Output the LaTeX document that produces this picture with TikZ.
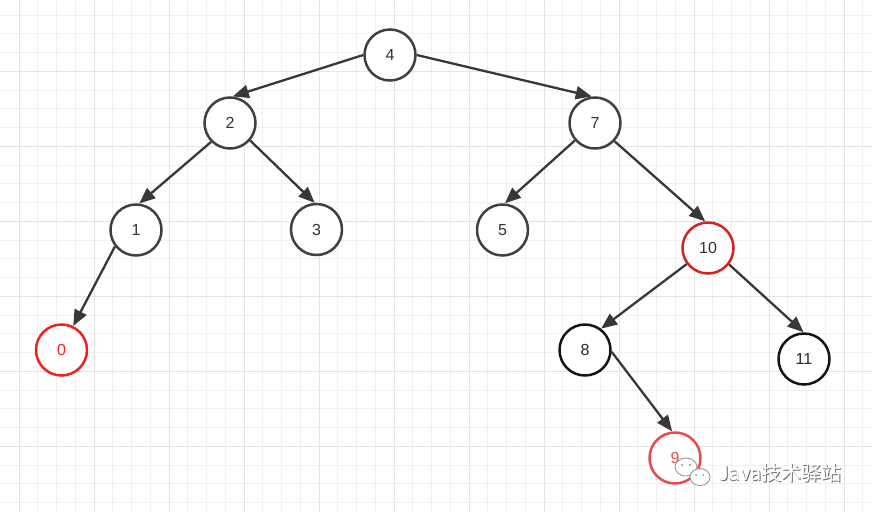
\documentclass[tikz,border=0pt]{standalone}
\usepackage{fontspec}
\setmainfont{Liberation Sans}
\newfontfamily\cjk{Noto Sans CJK SC}
\usetikzlibrary{arrows.meta}
\definecolor{minorgrid}{HTML}{F0F0F0}
\definecolor{majorgrid}{HTML}{E4E4E4}
\definecolor{nodegray}{HTML}{404040}
\definecolor{textgray}{HTML}{333333}
\definecolor{edgegray}{HTML}{383838}
\definecolor{darkred}{HTML}{D02424}
\definecolor{brightred}{HTML}{EE2020}
\definecolor{lightred}{HTML}{EC4A4A}
\definecolor{markgray}{HTML}{6A6A6A}
\tikzset{
  tnode/.style={circle, draw=nodegray, line width=2.5pt, minimum size=51pt, inner sep=0pt,
    fill=white, text=textgray, font=\fontsize{16}{19}\selectfont},
  blknode/.style={tnode, draw=black!92, text=black!85},
  rednodeA/.style={tnode, draw=darkred},
  rednodeB/.style={tnode, draw=brightred, text=brightred},
  rednodeC/.style={tnode, draw=lightred, text=lightred},
  edge/.style={draw=edgegray, line width=2.3pt, -{Triangle[length=16pt,width=13pt]}},
  minorline/.style={draw=minorgrid, line width=1pt},
  majorline/.style={draw=majorgrid, line width=1pt},
}
\begin{document}
\begin{tikzpicture}[x=1pt,y=-1pt]
\useasboundingbox (0,0) rectangle (872,512);
\fill[white] (0,0) rectangle (872,512);
% grid
\foreach \k in {0,...,45} \draw[minorline] ({19+18.75*\k},0) -- ({19+18.75*\k},512);
\foreach \k in {0,...,26} \draw[minorline] (0,{15+18.75*\k}) -- (872,{15+18.75*\k});
\foreach \k in {0,...,11} \draw[majorline] ({19+75*\k},0) -- ({19+75*\k},512);
\foreach \k in {0,...,5} \draw[majorline] (0,{71.25+75*\k}) -- (872,{71.25+75*\k});

% nodes
\node[tnode] (n4) at (390,55) {4};
\node[tnode] (n2) at (230,123) {2};
\node[tnode] (n7) at (595,123) {7};
\node[tnode] (n1) at (136,230) {1};
\node[tnode] (n3) at (316.5,229.5) {3};
\node[tnode] (n5) at (502.5,230) {5};
\node[rednodeA] (n10) at (708,248) {10};
\node[rednodeB] (n0) at (61.5,350) {0};
\node[blknode] (n8) at (585,350) {8};
\node[blknode] (n11) at (804,359) {11};
\node[rednodeC] (n9) at (675,458) {9};

% edges
\draw[edge] (n4.180) -- (n2.84);
\draw[edge] (n4.0) -- (n7.97);
\draw[edge] (n2.225) -- (n1.83);
\draw[edge] (n2.319) -- (n3.94);
\draw[edge] (n7.221) -- (n5.85);
\draw[edge] (n7.317) -- (n10.96);
\draw[edge] (n1.218) -- (n0.64);
\draw[edge] (n10.217) -- (n8.53);
\draw[edge] (n10.322) -- (n11.91);
\draw[edge] (n8.356) -- (n9.96);

% watermark
\begin{scope}[draw=markgray!70, line width=0.9pt, fill=white]
  \filldraw (686,467) ellipse [x radius=11, y radius=9];
  \filldraw (700,477) ellipse [x radius=10, y radius=8.5];
  \fill[markgray!70] (682,465) circle (1.1) (690,465) circle (1.1)
                  (696,475) circle (1) (703,475) circle (1);
\end{scope}
\node[text=markgray, font=\cjk\fontsize{20}{23}\selectfont, inner sep=0pt] (wmshadow) at (780.8,473.8) {Java技术驿站};
\node[text=white, font=\cjk\fontsize{20}{23}\selectfont, inner sep=0pt] (wm) at (780,473) {Java技术驿站};
\end{tikzpicture}
\end{document}
